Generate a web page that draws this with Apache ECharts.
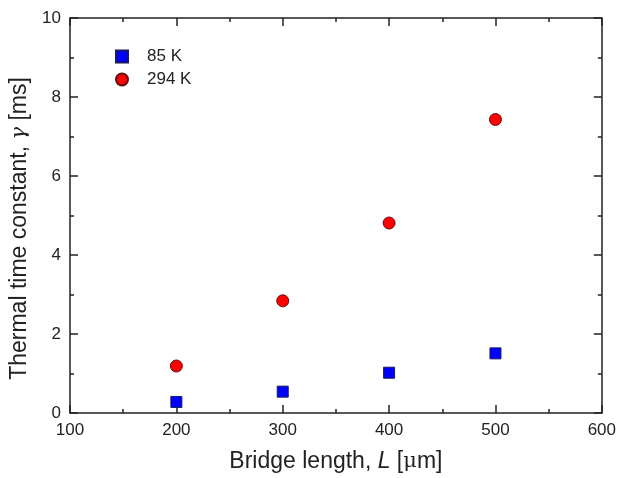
<!DOCTYPE html>
<html>
<head>
<meta charset="utf-8">
<script src="https://cdn.jsdelivr.net/npm/echarts@6/dist/echarts.min.js"></script>
<style>
  html, body { margin: 0; padding: 0; background: #fff; }
  #chart { width: 619px; height: 478px; }
</style>
</head>
<body>
<div id="chart"></div>
<script>
// Bridge lengths in micrometres
const lengths = [200, 300, 400, 500];
// Thermal time constant (ms) at each temperature
const tau85K = [0.28, 0.54, 1.02, 1.51];
const tau294K = [1.19, 2.84, 4.81, 7.43];
const seriesNames = ['85 K', '294 K'];

const FONT = 'Liberation Sans, Arial, sans-serif';
const AXIS_COLOR = '#222';

const pairs = (xs, ys) => xs.map((x, i) => [x, ys[i]]);

const frameAxis = (extra) => Object.assign({
  axisLine: { show: true, onZero: false, lineStyle: { color: AXIS_COLOR, width: 1.5 } },
  axisTick: { show: true, inside: true, length: 8, lineStyle: { color: AXIS_COLOR, width: 1.5 } },
  minorTick: { show: true, splitNumber: 2, length: 4, lineStyle: { color: AXIS_COLOR, width: 1.5 } },
  splitLine: { show: false },
  minorSplitLine: { show: false }
}, extra);

const chart = echarts.init(document.getElementById('chart'), null, { renderer: 'canvas' });

chart.setOption({
  backgroundColor: '#fff',
  animation: false,
  grid: { left: 70, right: 15, top: 18, bottom: 63 },
  legend: {
    left: 110, top: 43, orient: 'vertical', itemGap: 6,
    itemWidth: 12, itemHeight: 12,
    textStyle: { fontFamily: FONT, fontSize: 17, color: '#222', padding: [0, 0, 0, 14] },
    data: seriesNames
  },
  xAxis: [
    frameAxis({
      type: 'value', min: 100, max: 600, interval: 100, position: 'bottom',
      axisLabel: { show: true, margin: 9, fontFamily: FONT, fontSize: 17, color: '#222' },
      name: '{t|Bridge length, }{i|L}{t| [}{g|μ}{t|m]}',
      nameLocation: 'middle', nameGap: 37,
      nameTextStyle: {
        rich: {
          t: { fontFamily: FONT, fontSize: 23, color: '#222' },
          i: { fontFamily: FONT, fontSize: 23, color: '#222', fontStyle: 'italic' },
          g: { fontFamily: 'DejaVu Serif, serif', fontSize: 21, color: '#222' }
        }
      }
    }),
    frameAxis({
      type: 'value', min: 100, max: 600, interval: 100, position: 'top',
      axisLabel: { show: false }
    })
  ],
  yAxis: [
    frameAxis({
      type: 'value', min: 0, max: 10, interval: 2, position: 'left',
      axisLabel: { show: true, margin: 9, fontFamily: FONT, fontSize: 17, color: '#222' },
      name: '{t|Thermal time constant, }{g|γ}{t| [ms]}',
      nameLocation: 'middle', nameGap: 37,
      nameTextStyle: {
        padding: [0, 26, 0, 0],
        rich: {
          t: { fontFamily: FONT, fontSize: 23, color: '#222' },
          g: { fontFamily: 'DejaVu Serif, serif', fontSize: 21, color: '#222', fontStyle: 'italic' }
        }
      }
    }),
    frameAxis({
      type: 'value', min: 0, max: 10, interval: 2, position: 'right',
      axisLabel: { show: false }
    })
  ],
  series: [
    {
      name: seriesNames[0], type: 'scatter', symbol: 'rect', symbolSize: 11,
      data: pairs(lengths, tau85K),
      itemStyle: { color: '#0000ff', borderColor: '#1a1a60', borderWidth: 1, opacity: 1 }
    },
    {
      name: seriesNames[1], type: 'scatter', symbol: 'circle', symbolSize: 12,
      data: pairs(lengths, tau294K),
      itemStyle: { color: '#ff0000', borderColor: '#601010', borderWidth: 1, opacity: 1 }
    }
  ]
});
</script>
</body>
</html>
